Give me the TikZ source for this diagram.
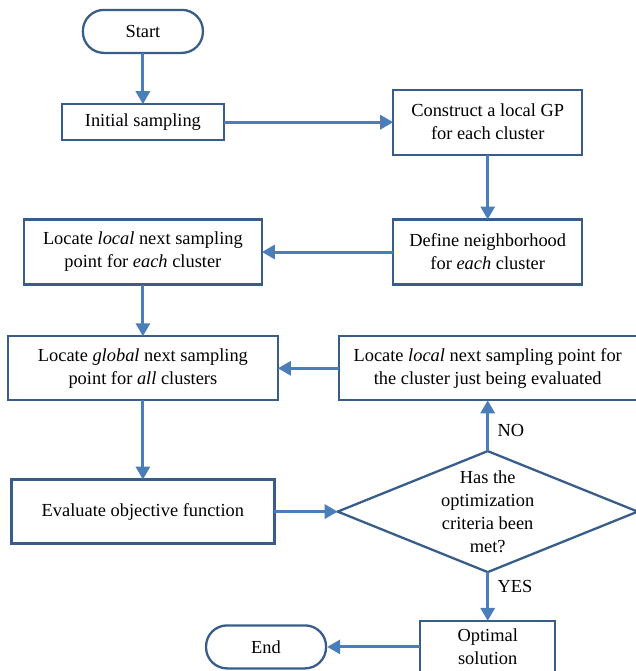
\documentclass[tikz,border=0pt]{standalone}
\usepackage{fontspec}
\setmainfont{Liberation Serif}
\usetikzlibrary{arrows.meta,positioning,shapes.geometric}
\definecolor{boxblue}{RGB}{56,93,138}
\definecolor{flowblue}{RGB}{74,126,187}

\begin{document}
\begin{tikzpicture}[
  every matrix/.style={ampersand replacement=\&,column sep=57.5pt,row sep=34.5pt,inner sep=0pt,outer sep=0pt},
  box/.style={draw=boxblue,line width=2.3pt,rectangle,minimum height=65pt},
  term/.style={box,rounded corners=21pt,minimum width=120pt,minimum height=43pt},
  decision/.style={draw=boxblue,line width=2.3pt,diamond,minimum width=300pt,minimum height=121pt,inner sep=0pt},
  flow/.style={-{Triangle[length=13pt,width=14pt]},draw=flowblue,line width=3pt},
  answer/.style={right=5pt},
  every node/.style={align=center,font=\fontsize{18.4}{23}\selectfont}]

\useasboundingbox (0,0) rectangle (635pt,-671pt);

% Position the steps using a matrix layout
\matrix (chart) at (6.75pt,-8.75pt) [matrix anchor=north west] {
      \node[term] (start) {Start};
      \& \\
      \node[box,minimum width=162pt,minimum height=36pt] (initial) {Initial sampling};
      \& \node[box,minimum width=189pt] (construct) {Construct a local GP \\ for each cluster};
      \\[28pt]
      \node[box,minimum width=238pt] (localeach) {Locate \textit{local} next sampling \\ point for \textit{each} cluster};
      \& \node[box,minimum width=189pt] (define) {Define neighborhood \\ for \textit{each} cluster};
      \\[15pt]
      \node[box,minimum width=270pt,minimum height=64pt] (global) {Locate \textit{global} next sampling \\ point for \textit{all} clusters};
      \& \node[box,minimum width=298pt,minimum height=64pt] (localeval) {Locate \textit{local} next sampling point for \\ the cluster just being evaluated};
      \\[14pt]
      \node[box,minimum width=263pt,minimum height=64pt] (evaluate) {Evaluate objective function};
      \& \node[decision] (check) {\raisebox{-6pt}[0pt][0pt]{\makebox[0pt]{\begin{tabular}{@{}c@{}}Has the\\ optimization\\ criteria been\\ met?\end{tabular}}}};
      \\[12pt]
      \& \node[box,minimum width=135pt,minimum height=52pt] (optimal) {Optimal \\ solution};
      \\
  };
\node[term,left=93pt of optimal] (end) {End};

% Draw the arrows between the steps and label the decision.
\draw [flow] (start) -- (initial);
\draw [flow] (initial) -- (construct);
\draw [flow] (construct) -- (define);
\draw [flow] (define) -- (localeach);
\draw [flow] (localeach) -- (global);
\draw [flow] (localeval) -- (global);
\draw [flow] (global) -- (evaluate);
\draw [flow] (evaluate) -- (check);
\draw [flow] (check) -- node[answer,pos=0.4] {NO} (localeval);
\draw [flow] (check) -- node[answer,pos=0.3] {YES} (optimal);
\draw [flow] (optimal) -- (end);

\end{tikzpicture}
\end{document}
